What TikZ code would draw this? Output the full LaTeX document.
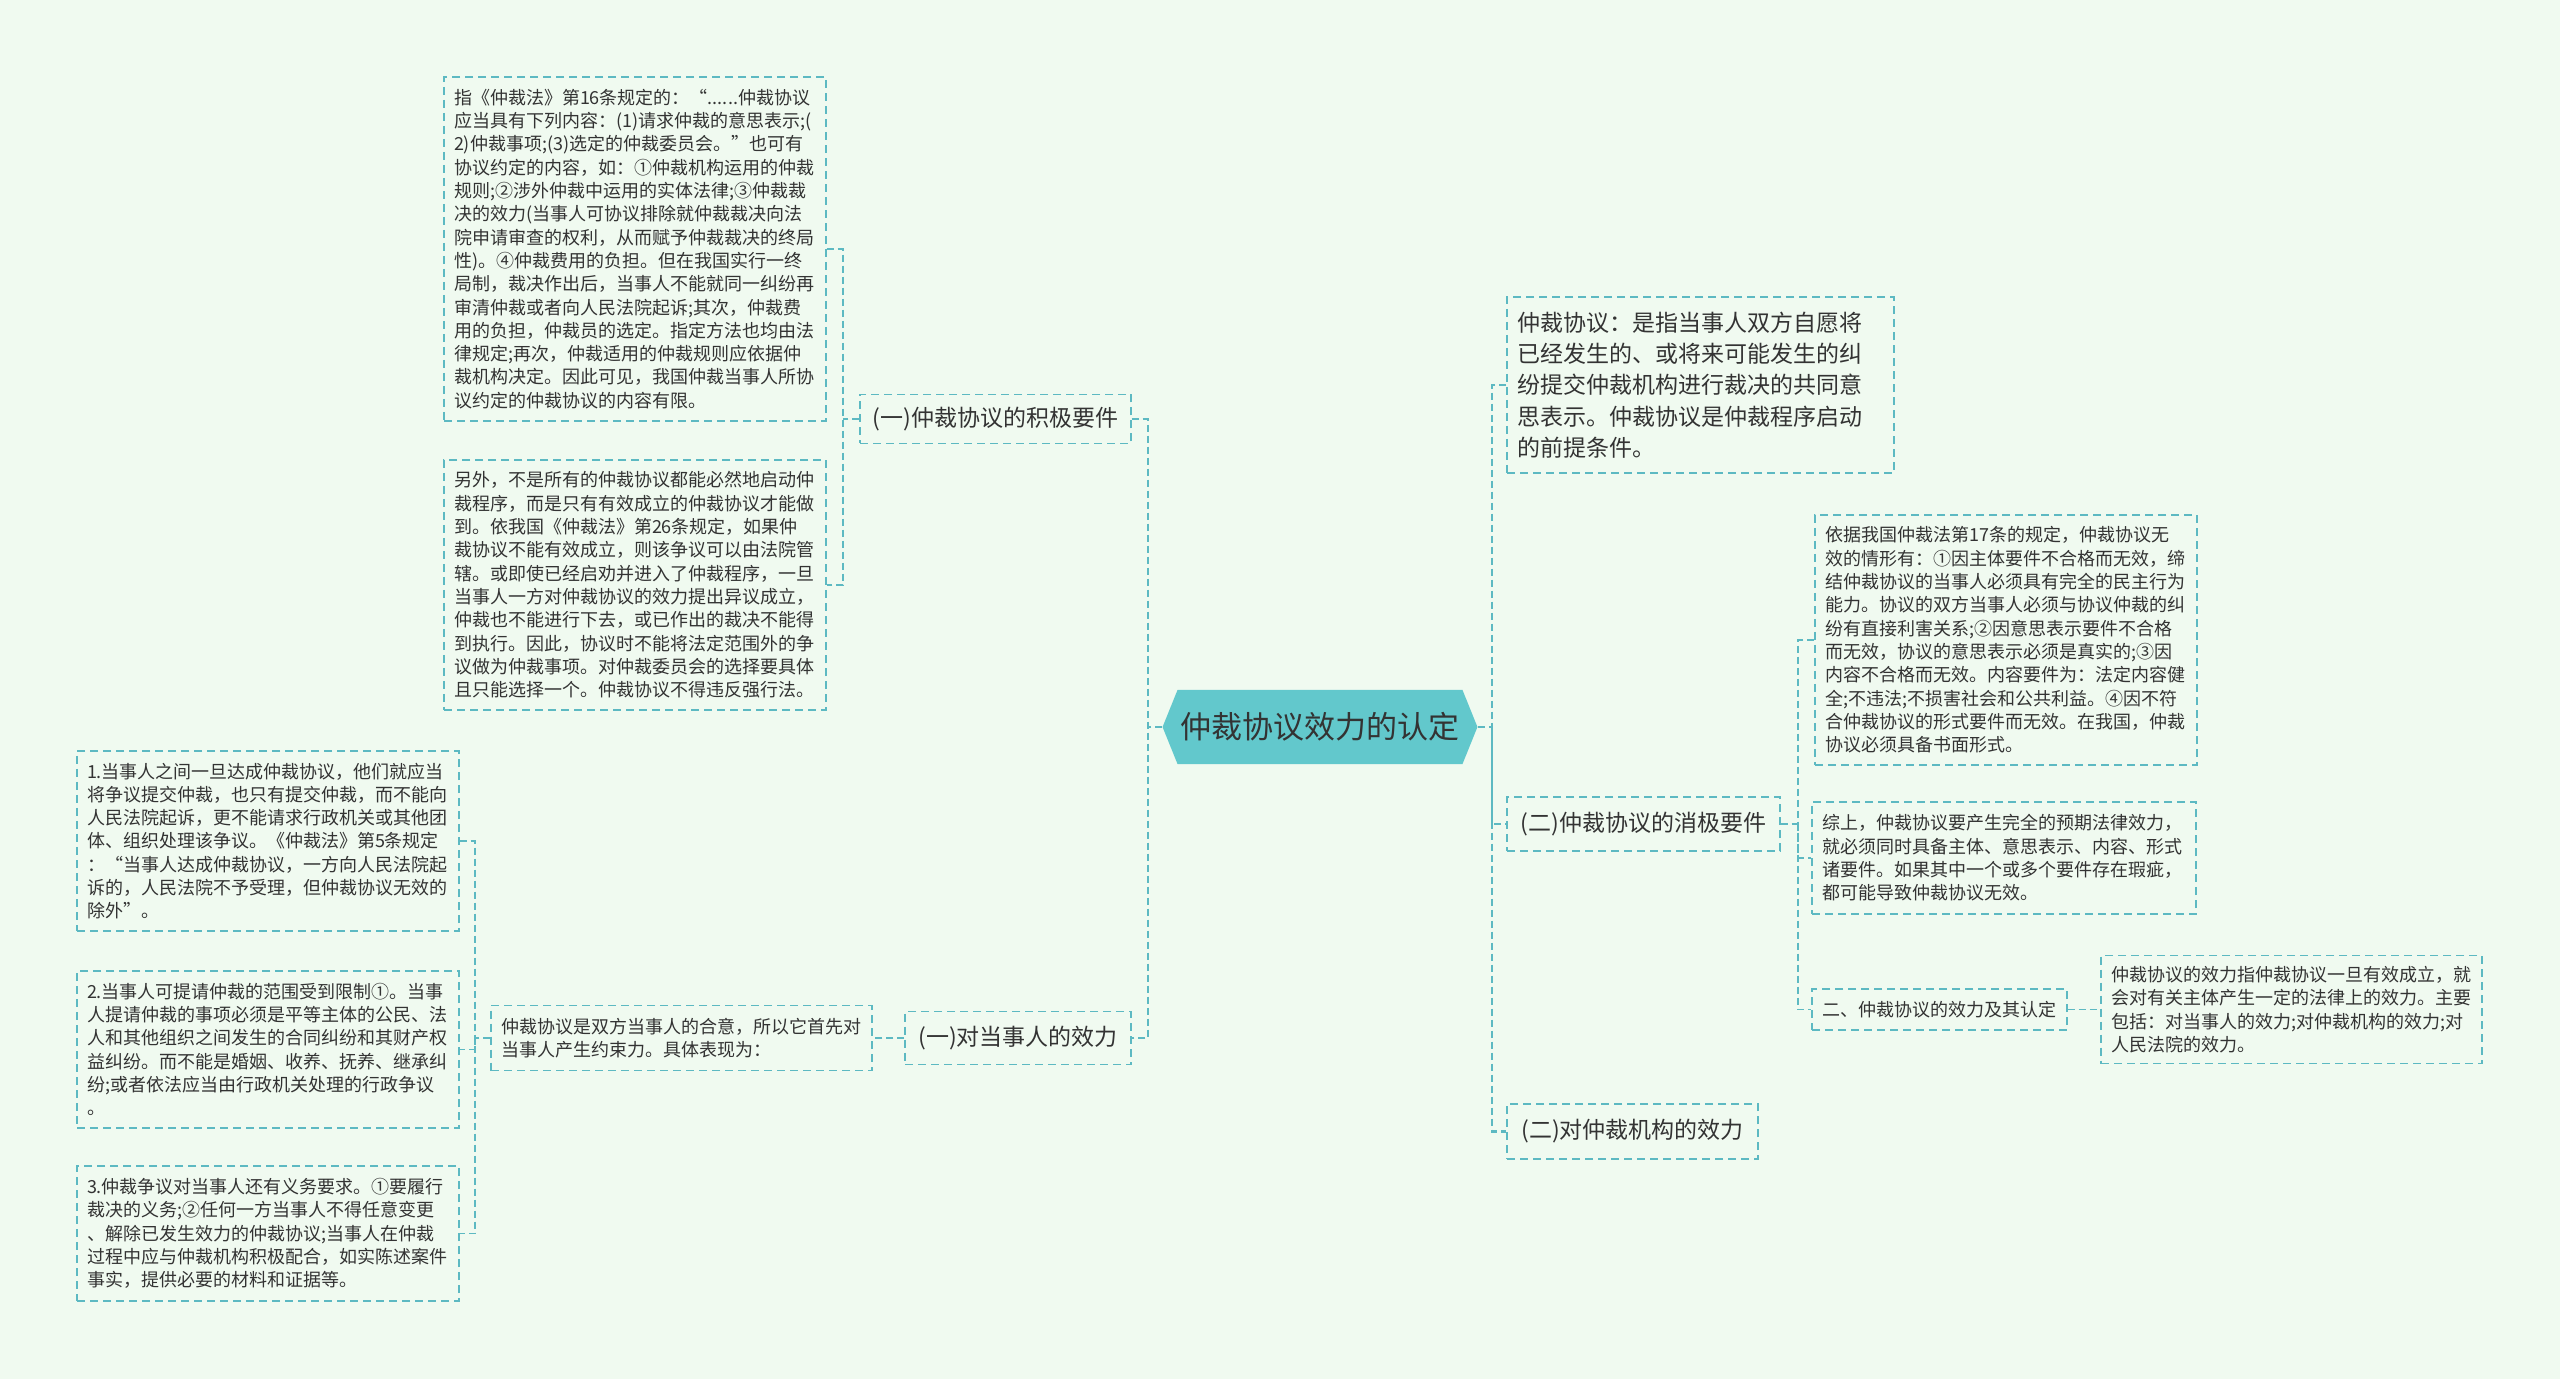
\documentclass[tikz,border=0pt]{standalone}
\usepackage{fontspec}
\setmainfont{Noto Sans CJK SC}
\usetikzlibrary{shapes.symbols}
\definecolor{bgmint}{HTML}{F0FAF0}
\definecolor{lineteal}{HTML}{5DB9C2}
\definecolor{hexfill}{HTML}{62C8CC}
\definecolor{inkgray}{HTML}{333333}
\tikzset{
    box/.style={draw=lineteal, line width=0.6pt, dash pattern=on 4pt off 2.5pt, text=inkgray, inner sep=5pt},
    para/.style={box, font=\fontsize{9}{11.65}\selectfont, align=left},
    topic/.style={box, font=\fontsize{11.5}{15.6}\selectfont, align=center},
    link/.style={draw=lineteal, line width=0.8pt, dash pattern=on 3.5pt off 2pt},
    mainlink/.style={link, line width=1.3pt},
}

\begin{document}
\begin{tikzpicture}[x=0.5pt, y=-0.5pt]
        \fill[bgmint] (0,0) rectangle (2560,1379);
        \useasboundingbox (0,0) rectangle (2560,1379);

        % centre
        \node[shape=signal, signal to=west and east, signal pointer angle=136, fill=hexfill, text=inkgray,
              inner xsep=1.5pt, minimum height=37pt, font=\fontsize{15.5}{18}\selectfont] (root) at (1320,727) {仲裁协议效力的认定};

        % left side
        \node[topic, minimum width=135.5pt, minimum height=24.5pt] (posreq) at (995.5,419) {(一)仲裁协议的积极要件};
        \node[para, text width=181pt, minimum height=172pt] (posa) at (635,249) {指《仲裁法》第16条规定的：“......仲裁协议\\应当具有下列内容：(1)请求仲裁的意思表示;(\\2)仲裁事项;(3)选定的仲裁委员会。”也可有\\协议约定的内容，如：①仲裁机构运用的仲裁\\规则;②涉外仲裁中运用的实体法律;③仲裁裁\\决的效力(当事人可协议排除就仲裁裁决向法\\院申请审查的权利，从而赋予仲裁裁决的终局\\性)。④仲裁费用的负担。但在我国实行一终\\局制，裁决作出后，当事人不能就同一纠纷再\\审清仲裁或者向人民法院起诉;其次，仲裁费\\用的负担，仲裁员的选定。指定方法也均由法\\律规定;再次，仲裁适用的仲裁规则应依据仲\\裁机构决定。因此可见，我国仲裁当事人所协\\议约定的仲裁协议的内容有限。};
        \node[para, text width=181pt, minimum height=125pt] (posb) at (635,585) {另外，不是所有的仲裁协议都能必然地启动仲\\裁程序，而是只有有效成立的仲裁协议才能做\\到。依我国《仲裁法》第26条规定，如果仲\\裁协议不能有效成立，则该争议可以由法院管\\辖。或即使已经启劝并进入了仲裁程序，一旦\\当事人一方对仲裁协议的效力提出异议成立，\\仲裁也不能进行下去，或已作出的裁决不能得\\到执行。因此，协议时不能将法定范围外的争\\议做为仲裁事项。对仲裁委员会的选择要具体\\且只能选择一个。仲裁协议不得违反强行法。};

        \node[topic, minimum width=113pt, minimum height=26.5pt] (party) at (1018,1038) {(一)对当事人的效力};
        \node[para, text width=180.5pt, minimum height=32.5pt] (partyintro) at (681.5,1038) {仲裁协议是双方当事人的合意，所以它首先对\\当事人产生约束力。具体表现为：};
        \node[para, text width=181pt, minimum height=90pt] (duty1) at (268,841) {1.当事人之间一旦达成仲裁协议，他们就应当\\将争议提交仲裁，也只有提交仲裁，而不能向\\人民法院起诉，更不能请求行政机关或其他团\\体、组织处理该争议。《仲裁法》第5条规定\\：“当事人达成仲裁协议，一方向人民法院起\\诉的，人民法院不予受理，但仲裁协议无效的\\除外”。};
        \node[para, text width=181pt, minimum height=78.5pt] (duty2) at (268,1049.5) {2.当事人可提请仲裁的范围受到限制①。当事\\人提请仲裁的事项必须是平等主体的公民、法\\人和其他组织之间发生的合同纠纷和其财产权\\益纠纷。而不能是婚姻、收养、抚养、继承纠\\纷;或者依法应当由行政机关处理的行政争议\\。};
        \node[para, text width=181pt, minimum height=67.5pt] (duty3) at (268,1233.5) {3.仲裁争议对当事人还有义务要求。①要履行\\裁决的义务;②任何一方当事人不得任意变更\\、解除已发生效力的仲裁协议;当事人在仲裁\\过程中应与仲裁机构积极配合，如实陈述案件\\事实，提供必要的材料和证据等。};

        % right side
        \node[topic, align=left, text width=183.5pt, minimum height=88pt] (defn) at (1700.5,385) {仲裁协议：是指当事人双方自愿将\\已经发生的、或将来可能发生的纠\\纷提交仲裁机构进行裁决的共同意\\思表示。仲裁协议是仲裁程序启动\\的前提条件。};
        \node[topic, minimum width=136.5pt, minimum height=27pt] (negreq) at (1643.5,824) {(二)仲裁协议的消极要件};
        \node[topic, minimum width=125.5pt, minimum height=27.5pt] (inst) at (1632.5,1131.5) {(二)对仲裁机构的效力};

        \node[para, text width=181pt, minimum height=125pt] (nega) at (2006,640) {依据我国仲裁法第17条的规定，仲裁协议无\\效的情形有：①因主体要件不合格而无效，缔\\结仲裁协议的当事人必须具有完全的民主行为\\能力。协议的双方当事人必须与协议仲裁的纠\\纷有直接利害关系;②因意思表示要件不合格\\而无效，协议的意思表示必须是真实的;③因\\内容不合格而无效。内容要件为：法定内容健\\全;不违法;不损害社会和公共利益。④因不符\\合仲裁协议的形式要件而无效。在我国，仲裁\\协议必须具备书面形式。};
        \node[para, text width=182pt, minimum height=56pt] (negb) at (2004,858) {综上，仲裁协议要产生完全的预期法律效力，\\就必须同时具备主体、意思表示、内容、形式\\诸要件。如果其中一个或多个要件存在瑕疵，\\都可能导致仲裁协议无效。};
        \node[para, align=center, minimum width=127.5pt, minimum height=20.5pt] (effect) at (1939.5,1009.5) {二、仲裁协议的效力及其认定};
        \node[para, text width=180.5pt, minimum height=54pt] (effectnote) at (2291.5,1009.5) {仲裁协议的效力指仲裁协议一旦有效成立，就\\会对有关主体产生一定的法律上的效力。主要\\包括：对当事人的效力;对仲裁机构的效力;对\\人民法院的效力。};

        % connectors
        \coordinate (ltrunk) at (1148,727);
        \coordinate (rtrunk) at (1492,727);
        \draw[mainlink] (root.west) -- (ltrunk);
        \draw[mainlink] (posreq.east) -| (ltrunk) |- (party.east);
        \draw[mainlink] (root.east) -- (rtrunk);
        \draw[mainlink] (defn.west) -| (rtrunk) |- (inst.west);
        \draw[mainlink] (rtrunk) |- (negreq.west);

        \coordinate (ptrunk) at (843,419);
        \draw[link] (posreq.west) -- (ptrunk);
        \draw[link] (posa.east) -| (ptrunk) |- (posb.east);
        \draw[link] (party.west) -- (partyintro.east);
        \coordinate (dtrunk) at (475,1038);
        \draw[link] (partyintro.west) -- (dtrunk);
        \draw[link] (duty1.east) -| (dtrunk) |- (duty3.east);
        \draw[link] (dtrunk) |- (duty2.east);

        \coordinate (ntrunk) at (1798,824);
        \draw[link] (negreq.east) -- (ntrunk);
        \draw[link] (nega.west) -| (ntrunk) |- (effect.west);
        \draw[link] (ntrunk) |- (negb.west);
        \draw[link] (effect.east) -- (effectnote.west);
    \end{tikzpicture}
\end{document}
